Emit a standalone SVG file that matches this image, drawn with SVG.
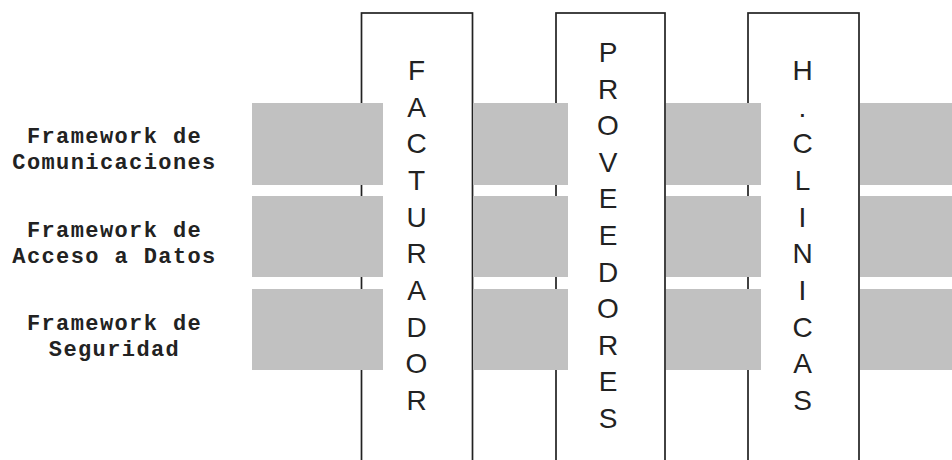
<svg xmlns="http://www.w3.org/2000/svg" width="952" height="460" viewBox="0 0 952 460">
<style>
.col{fill:#ffffff;stroke:#222222;stroke-width:1.7}
.band{fill:#c1c1c1}
.lbl{font-family:"Liberation Mono","Courier New",monospace;font-weight:bold;font-size:22px;letter-spacing:1.4px;fill:#222222;text-anchor:middle}
.v{font-family:"Liberation Sans",Arial,sans-serif;font-size:28px;fill:#222222;text-anchor:middle}
</style>
<rect width="952" height="460" fill="#ffffff"/>
<g id="facturador">
<rect class="col" x="361.5" y="13" width="111" height="470"/>
</g>
<g id="proveedores">
<rect class="col" x="556" y="13" width="109" height="470"/>
</g>
<g id="hclinicas">
<rect class="col" x="748" y="13" width="111" height="470"/>
</g>
<g id="connectors"></g>
<g id="fw-comunicaciones">
<rect class="band" x="252" y="103" width="131" height="82"/>
<rect class="band" x="473" y="103" width="95" height="82"/>
<rect class="band" x="666" y="103" width="95" height="82"/>
<rect class="band" x="860" y="103" width="92" height="82"/>
<text class="lbl" x="114.5" y="143">Framework de</text>
<text class="lbl" x="114.5" y="169">Comunicaciones</text>
</g>
<g id="fw-datos">
<rect class="band" x="252" y="196" width="131" height="81"/>
<rect class="band" x="473" y="196" width="95" height="81"/>
<rect class="band" x="666" y="196" width="95" height="81"/>
<rect class="band" x="860" y="196" width="92" height="81"/>
<text class="lbl" x="114.5" y="237">Framework de</text>
<text class="lbl" x="114.5" y="263">Acceso a Datos</text>
</g>
<g id="fw-seguridad">
<rect class="band" x="252" y="289" width="131" height="81"/>
<rect class="band" x="473" y="289" width="95" height="81"/>
<rect class="band" x="666" y="289" width="95" height="81"/>
<rect class="band" x="860" y="289" width="92" height="81"/>
<text class="lbl" x="114.5" y="330">Framework de</text>
<text class="lbl" x="114.5" y="356">Seguridad</text>
</g>
<g id="facturador-label">
<text class="v" x="416.5" y="80">F</text>
<text class="v" x="416.5" y="116.7">A</text>
<text class="v" x="416.5" y="153.3">C</text>
<text class="v" x="416.5" y="190">T</text>
<text class="v" x="416.5" y="226.7">U</text>
<text class="v" x="416.5" y="263.3">R</text>
<text class="v" x="416.5" y="300">A</text>
<text class="v" x="416.5" y="336.7">D</text>
<text class="v" x="416.5" y="373.3">O</text>
<text class="v" x="416.5" y="410">R</text>
</g>
<g id="proveedores-label">
<text class="v" x="608" y="62">P</text>
<text class="v" x="608" y="98.6">R</text>
<text class="v" x="608" y="135.2">O</text>
<text class="v" x="608" y="171.8">V</text>
<text class="v" x="608" y="208.4">E</text>
<text class="v" x="608" y="245">E</text>
<text class="v" x="608" y="281.6">D</text>
<text class="v" x="608" y="318.2">O</text>
<text class="v" x="608" y="354.8">R</text>
<text class="v" x="608" y="391.4">E</text>
<text class="v" x="608" y="428">S</text>
</g>
<g id="hclinicas-label">
<text class="v" x="802.5" y="80">H</text>
<text class="v" x="802.5" y="116.7">.</text>
<text class="v" x="802.5" y="153.3">C</text>
<text class="v" x="802.5" y="190">L</text>
<text class="v" x="802.5" y="226.7">I</text>
<text class="v" x="802.5" y="263.3">N</text>
<text class="v" x="802.5" y="300">I</text>
<text class="v" x="802.5" y="336.7">C</text>
<text class="v" x="802.5" y="373.3">A</text>
<text class="v" x="802.5" y="410">S</text>
</g>
</svg>
